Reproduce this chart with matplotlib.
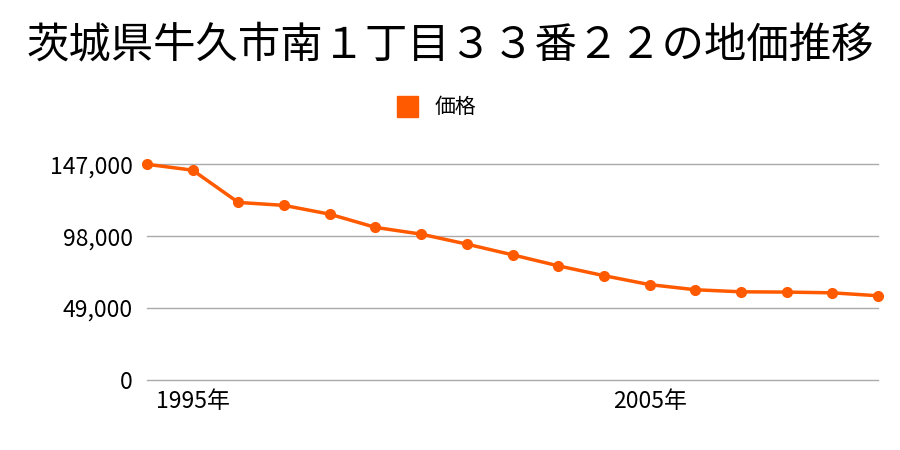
import matplotlib
matplotlib.use('Agg')
import matplotlib.pyplot as plt
import matplotlib.patches as mpatches

plt.rcParams['font.family'] = ['Noto Sans CJK JP', 'DejaVu Sans']

years = list(range(1994, 2011))
prices = [147000, 143000, 121000, 119000, 113000, 104000, 99400, 92600, 85300,
          77800, 71100, 65000, 61500, 60100, 59900, 59400, 57400]
yticks = [0, 49000, 98000, 147000]
ytick_labels = ['0', '49,000', '98,000', '147,000']
xticks = [1995, 2005]
xtick_labels = ['1995年', '2005年']
title = '茨城県牛久市南１丁目３３番２２の地価推移'
series_name = '価格'

color = '#ff5a00'

fig = plt.figure(figsize=(9, 4.5), dpi=100)
ax = fig.add_axes([0.1633, 0.1556, 0.8123, 0.4793])

ax.plot(years, prices, color=color, linewidth=2.5, marker='o', markersize=7,
        clip_on=False, zorder=3)

ax.set_xlim(years[0], years[-1])
ax.set_ylim(0, 147000)
ax.set_yticks(yticks)
ax.set_yticklabels(ytick_labels, fontsize=16.5)
ax.set_xticks(xticks)
ax.set_xticklabels(xtick_labels, fontsize=16.5)
ax.tick_params(length=0, pad=10)
ax.tick_params(axis='x', pad=7)
for y in yticks:
    ax.axhline(y, color='#aaaaaa', linewidth=1, clip_on=False, zorder=1)
for s in ax.spines.values():
    s.set_visible(False)

fig.text(0.5, 0.90, title, ha='center', va='center', fontsize=30.5)

fig.patches.append(mpatches.Rectangle((397 / 900, 1 - 117 / 450), 21 / 900, 21 / 450,
                                      transform=fig.transFigure, color=color))
fig.text(435 / 900, 1 - 107 / 450, series_name, ha='left', va='center', fontsize=15)

fig.savefig('out.png', dpi=100)
